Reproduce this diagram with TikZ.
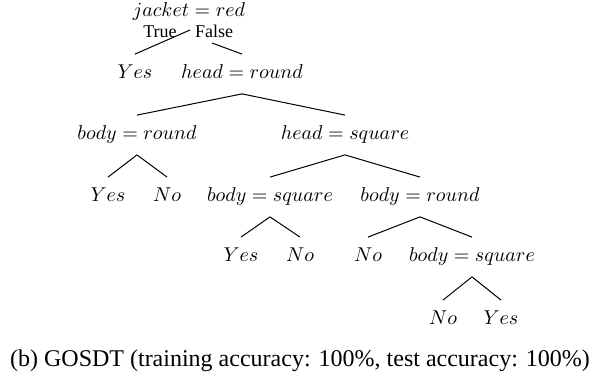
\documentclass[tikz,border=0pt]{standalone}
\usepackage[no-math]{fontspec}
\setmainfont{Liberation Serif}
\begin{document}
\begin{tikzpicture}[x=0.5pt,y=-0.5pt,
  tn/.style={inner sep=0pt,text height=7pt,text depth=2pt,minimum height=19.5pt},
  lbl/.style={inner sep=0pt,font=\fontsize{9}{10}\selectfont},
  edge/.style={line width=0.5pt}]
\useasboundingbox (0,0) rectangle (599,378);
% nodes
\node[tn] (root) at (189,12) {$jacket = red$};
\node[lbl] (true) at (160,31.5) {True};
\node[lbl] (false) at (214,31.5) {False};
\node[tn] (y1) at (135,74) {$Yes$};
\node[tn] (hr) at (242,74) {$head = round$};
\node[tn] (br) at (137,135) {$body = round$};
\node[tn] (hs) at (345,135) {$head = square$};
\node[tn] (y2) at (108,197) {$Yes$};
\node[tn] (n2) at (167,197) {$No$};
\node[tn] (bs) at (270,197) {$body = square$};
\node[tn] (br2) at (420,197) {$body = round$};
\node[tn] (y3) at (241,257) {$Yes$};
\node[tn] (n3) at (300,257) {$No$};
\node[tn] (n4) at (368,257) {$No$};
\node[tn] (bs2) at (472,257) {$body = square$};
\node[tn] (n5) at (443,320) {$No$};
\node[tn] (y5) at (501,320) {$Yes$};
\node[inner sep=0pt,font=\fontsize{12}{14}\selectfont] (cap) at (300,361) {(b) GOSDT (training accuracy: 100\%, test accuracy: 100\%)};
% free ends of root edges
\coordinate (tl) at (190,30);
\coordinate (fr) at (212,43);
% edges
\draw[edge] (tl) -- (y1.north);
\draw[edge] (fr) -- (hr.north);
\draw[edge] (hr.south) -- (br.north);
\draw[edge] (hr.south) -- (hs.north);
\draw[edge] (br.south) -- (y2.north);
\draw[edge] (br.south) -- (n2.north);
\draw[edge] (hs.south) -- (bs.north);
\draw[edge] (hs.south) -- (br2.north);
\draw[edge] (bs.south) -- (y3.north);
\draw[edge] (bs.south) -- (n3.north);
\draw[edge] (br2.south) -- (n4.north);
\draw[edge] (br2.south) -- (bs2.north);
\draw[edge] (bs2.south) -- (n5.north);
\draw[edge] (bs2.south) -- (y5.north);
\end{tikzpicture}
\end{document}
